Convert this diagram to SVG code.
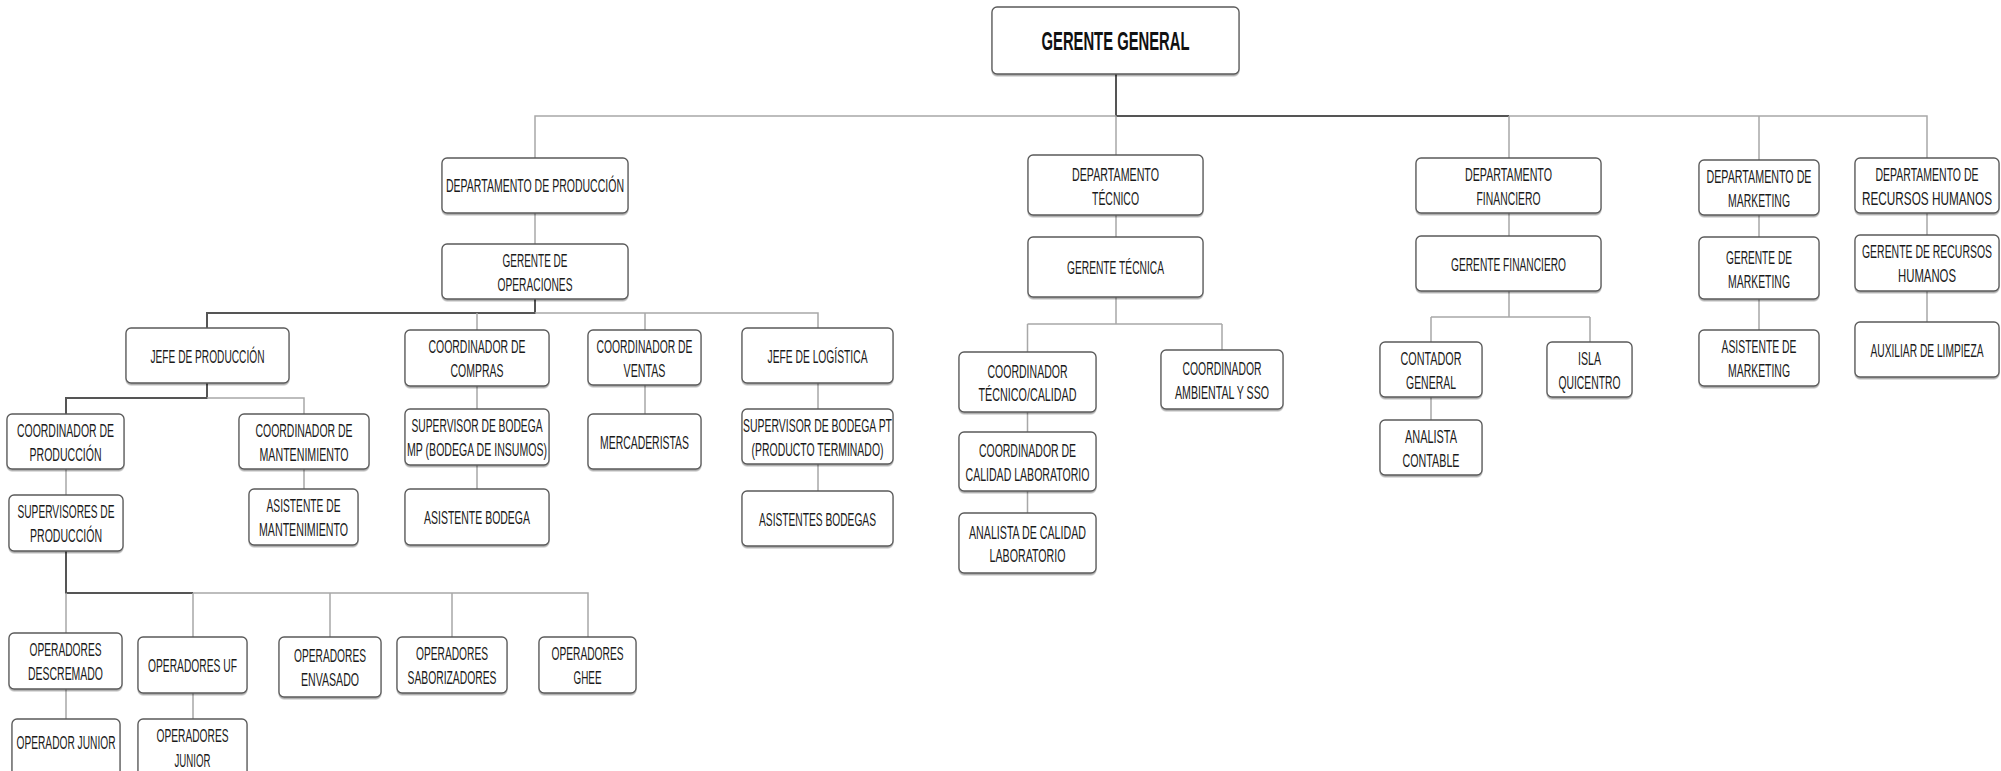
<svg xmlns="http://www.w3.org/2000/svg" width="2001" height="771" viewBox="0 0 2001 771">
<style>
.box{fill:#fff;stroke:#5a5a5a;stroke-width:1.3;filter:url(#sh)}
.t{font-family:"Liberation Sans Narrow","Liberation Sans",Arial,sans-serif;font-size:18.5px;fill:#1a1a1a;text-anchor:middle}
.tb{font-family:"Liberation Sans Narrow","Liberation Sans",Arial,sans-serif;font-size:25px;font-weight:bold;fill:#111;text-anchor:middle}
.lt{stroke:#a8a8a8;stroke-width:1.5;fill:none}
.dk{stroke:#555;stroke-width:2;fill:none}
</style>
<defs>
<filter id="sh" x="-5%" y="-10%" width="110%" height="130%">
<feDropShadow dx="0" dy="1.5" stdDeviation="0.7" flood-color="#000" flood-opacity="0.35"/>
</filter>
</defs>
<rect width="2001" height="771" fill="#fff"/>
<g id="connectors">
<path class="dk" d="M1116 74V116H1509"/>
<path class="lt" d="M1116 116H535V158M1509 116H1927V158M1116 116V155M1509 116V158M1759 116V160"/>
<path class="lt" d="M535 213V244"/>
<path class="dk" d="M535 299V313H207V328"/>
<path class="lt" d="M535 313H818V328M477 313V330M645 313V330"/>
<path class="dk" d="M207 383V398H66V414"/>
<path class="lt" d="M207 398H304V414"/>
<path class="lt" d="M66 469V495M304 469V489M477 386V409M477 465V489M645 385V414M818 383V409M818 464V491"/>
<path class="dk" d="M66 551V593H193"/>
<path class="lt" d="M193 593H588V637M66 593V633M193 593V637M330 593V637M452 593V637"/>
<path class="lt" d="M66 689V719M193 693V719"/>
<path class="lt" d="M1116 215V237M1116 297V324M1027.5 324H1222M1027.5 324V352M1222 324V350M1027.5 412V432M1027.5 491V513"/>
<path class="lt" d="M1509 213V236M1509 291V317M1431 317H1590M1431 317V342M1590 317V342M1431 397V420"/>
<path class="lt" d="M1759 215V237M1759 299V330"/>
<path class="lt" d="M1927 213V235M1927 291V322"/>
</g>
<g id="gerente-general"><rect class="box" x="992" y="7" width="247" height="67" rx="5"/><text class="tb" x="1115.5" y="50" textLength="148" lengthAdjust="spacingAndGlyphs">GERENTE GENERAL</text></g>
<g id="dep-produccion"><rect class="box" x="442" y="158" width="186" height="55" rx="5"/><text class="t" x="535" y="192" textLength="178" lengthAdjust="spacingAndGlyphs">DEPARTAMENTO DE PRODUCCIÓN</text></g>
<g id="gerente-operaciones"><rect class="box" x="442" y="244" width="186" height="55" rx="5"/><text class="t" x="535" y="267" textLength="65" lengthAdjust="spacingAndGlyphs">GERENTE DE</text><text class="t" x="535" y="291" textLength="75" lengthAdjust="spacingAndGlyphs">OPERACIONES</text></g>
<g id="jefe-produccion"><rect class="box" x="126" y="328" width="163" height="55" rx="5"/><text class="t" x="207.5" y="362.5" textLength="114" lengthAdjust="spacingAndGlyphs">JEFE DE PRODUCCIÓN</text></g>
<g id="coord-compras"><rect class="box" x="405" y="330" width="144" height="56" rx="5"/><text class="t" x="477" y="353" textLength="97" lengthAdjust="spacingAndGlyphs">COORDINADOR DE</text><text class="t" x="477" y="377" textLength="53" lengthAdjust="spacingAndGlyphs">COMPRAS</text></g>
<g id="coord-ventas"><rect class="box" x="588" y="330" width="113" height="55" rx="5"/><text class="t" x="644.5" y="353" textLength="96" lengthAdjust="spacingAndGlyphs">COORDINADOR DE</text><text class="t" x="644.5" y="377" textLength="42" lengthAdjust="spacingAndGlyphs">VENTAS</text></g>
<g id="jefe-logistica"><rect class="box" x="742" y="328" width="151" height="55" rx="5"/><text class="t" x="817.5" y="362.5" textLength="100" lengthAdjust="spacingAndGlyphs">JEFE DE LOGÍSTICA</text></g>
<g id="coord-produccion"><rect class="box" x="7" y="414" width="117" height="55" rx="5"/><text class="t" x="65.5" y="437" textLength="97" lengthAdjust="spacingAndGlyphs">COORDINADOR DE</text><text class="t" x="65.5" y="461" textLength="72" lengthAdjust="spacingAndGlyphs">PRODUCCIÓN</text></g>
<g id="coord-mantenimiento"><rect class="box" x="239" y="414" width="130" height="55" rx="5"/><text class="t" x="304" y="437" textLength="97" lengthAdjust="spacingAndGlyphs">COORDINADOR DE</text><text class="t" x="304" y="461" textLength="89" lengthAdjust="spacingAndGlyphs">MANTENIMIENTO</text></g>
<g id="sup-bodega-mp"><rect class="box" x="405" y="409" width="144" height="56" rx="5"/><text class="t" x="477" y="432" textLength="131" lengthAdjust="spacingAndGlyphs">SUPERVISOR DE BODEGA</text><text class="t" x="477" y="456" textLength="140" lengthAdjust="spacingAndGlyphs">MP (BODEGA DE INSUMOS)</text></g>
<g id="mercaderistas"><rect class="box" x="588" y="414" width="113" height="55" rx="5"/><text class="t" x="644.5" y="448.5" textLength="89" lengthAdjust="spacingAndGlyphs">MERCADERISTAS</text></g>
<g id="sup-bodega-pt"><rect class="box" x="742" y="409" width="151" height="55" rx="5"/><text class="t" x="817.5" y="432" textLength="149" lengthAdjust="spacingAndGlyphs">SUPERVISOR DE BODEGA PT</text><text class="t" x="817.5" y="456" textLength="132" lengthAdjust="spacingAndGlyphs">(PRODUCTO TERMINADO)</text></g>
<g id="supervisores-produccion"><rect class="box" x="9" y="495" width="114" height="56" rx="5"/><text class="t" x="66" y="518" textLength="97" lengthAdjust="spacingAndGlyphs">SUPERVISORES DE</text><text class="t" x="66" y="542" textLength="72" lengthAdjust="spacingAndGlyphs">PRODUCCIÓN</text></g>
<g id="asistente-mantenimiento"><rect class="box" x="249" y="489" width="109" height="56" rx="5"/><text class="t" x="303.5" y="512" textLength="74" lengthAdjust="spacingAndGlyphs">ASISTENTE DE</text><text class="t" x="303.5" y="536" textLength="89" lengthAdjust="spacingAndGlyphs">MANTENIMIENTO</text></g>
<g id="asistente-bodega"><rect class="box" x="405" y="489" width="144" height="56" rx="5"/><text class="t" x="477" y="523.5" textLength="106" lengthAdjust="spacingAndGlyphs">ASISTENTE BODEGA</text></g>
<g id="asistentes-bodegas"><rect class="box" x="742" y="491" width="151" height="55" rx="5"/><text class="t" x="817.5" y="525.5" textLength="117" lengthAdjust="spacingAndGlyphs">ASISTENTES BODEGAS</text></g>
<g id="op-descremado"><rect class="box" x="9" y="633" width="113" height="56" rx="5"/><text class="t" x="65.5" y="656" textLength="72" lengthAdjust="spacingAndGlyphs">OPERADORES</text><text class="t" x="65.5" y="680" textLength="75" lengthAdjust="spacingAndGlyphs">DESCREMADO</text></g>
<g id="op-uf"><rect class="box" x="138" y="637" width="109" height="56" rx="5"/><text class="t" x="192.5" y="671.5" textLength="89" lengthAdjust="spacingAndGlyphs">OPERADORES UF</text></g>
<g id="op-envasado"><rect class="box" x="279" y="637" width="102" height="60" rx="5"/><text class="t" x="330" y="662" textLength="72" lengthAdjust="spacingAndGlyphs">OPERADORES</text><text class="t" x="330" y="686" textLength="58" lengthAdjust="spacingAndGlyphs">ENVASADO</text></g>
<g id="op-saborizadores"><rect class="box" x="397" y="637" width="110" height="56" rx="5"/><text class="t" x="452" y="660" textLength="72" lengthAdjust="spacingAndGlyphs">OPERADORES</text><text class="t" x="452" y="684" textLength="89" lengthAdjust="spacingAndGlyphs">SABORIZADORES</text></g>
<g id="op-ghee"><rect class="box" x="539" y="637" width="97" height="56" rx="5"/><text class="t" x="587.5" y="660" textLength="72" lengthAdjust="spacingAndGlyphs">OPERADORES</text><text class="t" x="587.5" y="684" textLength="28" lengthAdjust="spacingAndGlyphs">GHEE</text></g>
<g id="operador-junior"><rect class="box" x="12" y="719" width="108" height="62" rx="5"/><text class="t" x="66" y="749" textLength="99" lengthAdjust="spacingAndGlyphs">OPERADOR JUNIOR</text></g>
<g id="operadores-junior"><rect class="box" x="138" y="719" width="109" height="62" rx="5"/><text class="t" x="192.5" y="741.5" textLength="72" lengthAdjust="spacingAndGlyphs">OPERADORES</text><text class="t" x="192.5" y="766.5" textLength="36" lengthAdjust="spacingAndGlyphs">JUNIOR</text></g>
<g id="dep-tecnico"><rect class="box" x="1028" y="155" width="175" height="60" rx="5"/><text class="t" x="1115.5" y="180.5" textLength="87" lengthAdjust="spacingAndGlyphs">DEPARTAMENTO</text><text class="t" x="1115.5" y="204.5" textLength="47" lengthAdjust="spacingAndGlyphs">TÉCNICO</text></g>
<g id="gerente-tecnica"><rect class="box" x="1028" y="237" width="175" height="60" rx="5"/><text class="t" x="1115.5" y="273.5" textLength="97" lengthAdjust="spacingAndGlyphs">GERENTE TÉCNICA</text></g>
<g id="coord-tecnico-calidad"><rect class="box" x="959" y="352" width="137" height="60" rx="5"/><text class="t" x="1027.5" y="377.5" textLength="80" lengthAdjust="spacingAndGlyphs">COORDINADOR</text><text class="t" x="1027.5" y="401" textLength="98" lengthAdjust="spacingAndGlyphs">TÉCNICO/CALIDAD</text></g>
<g id="coord-ambiental"><rect class="box" x="1161" y="350" width="122" height="59" rx="5"/><text class="t" x="1222" y="375" textLength="79" lengthAdjust="spacingAndGlyphs">COORDINADOR</text><text class="t" x="1222" y="398.5" textLength="94" lengthAdjust="spacingAndGlyphs">AMBIENTAL Y SSO</text></g>
<g id="coord-calidad-lab"><rect class="box" x="959" y="432" width="137" height="59" rx="5"/><text class="t" x="1027.5" y="457" textLength="97" lengthAdjust="spacingAndGlyphs">COORDINADOR DE</text><text class="t" x="1027.5" y="480.5" textLength="124" lengthAdjust="spacingAndGlyphs">CALIDAD LABORATORIO</text></g>
<g id="analista-calidad-lab"><rect class="box" x="959" y="513" width="137" height="60" rx="5"/><text class="t" x="1027.5" y="538.5" textLength="117" lengthAdjust="spacingAndGlyphs">ANALISTA DE CALIDAD</text><text class="t" x="1027.5" y="562" textLength="76" lengthAdjust="spacingAndGlyphs">LABORATORIO</text></g>
<g id="dep-financiero"><rect class="box" x="1416" y="158" width="185" height="55" rx="5"/><text class="t" x="1508.5" y="181" textLength="87" lengthAdjust="spacingAndGlyphs">DEPARTAMENTO</text><text class="t" x="1508.5" y="205" textLength="64" lengthAdjust="spacingAndGlyphs">FINANCIERO</text></g>
<g id="gerente-financiero"><rect class="box" x="1416" y="236" width="185" height="55" rx="5"/><text class="t" x="1508.5" y="270.5" textLength="115" lengthAdjust="spacingAndGlyphs">GERENTE FINANCIERO</text></g>
<g id="contador-general"><rect class="box" x="1380" y="342" width="102" height="55" rx="5"/><text class="t" x="1431" y="365" textLength="61" lengthAdjust="spacingAndGlyphs">CONTADOR</text><text class="t" x="1431" y="389" textLength="50" lengthAdjust="spacingAndGlyphs">GENERAL</text></g>
<g id="isla-quicentro"><rect class="box" x="1547" y="342" width="85" height="55" rx="5"/><text class="t" x="1589.5" y="365" textLength="23" lengthAdjust="spacingAndGlyphs">ISLA</text><text class="t" x="1589.5" y="389" textLength="62" lengthAdjust="spacingAndGlyphs">QUICENTRO</text></g>
<g id="analista-contable"><rect class="box" x="1380" y="420" width="102" height="55" rx="5"/><text class="t" x="1431" y="443" textLength="52" lengthAdjust="spacingAndGlyphs">ANALISTA</text><text class="t" x="1431" y="467" textLength="57" lengthAdjust="spacingAndGlyphs">CONTABLE</text></g>
<g id="dep-marketing"><rect class="box" x="1699" y="160" width="120" height="55" rx="5"/><text class="t" x="1759" y="183" textLength="105" lengthAdjust="spacingAndGlyphs">DEPARTAMENTO DE</text><text class="t" x="1759" y="207" textLength="62" lengthAdjust="spacingAndGlyphs">MARKETING</text></g>
<g id="gerente-marketing"><rect class="box" x="1699" y="237" width="120" height="62" rx="5"/><text class="t" x="1759" y="263.5" textLength="66" lengthAdjust="spacingAndGlyphs">GERENTE DE</text><text class="t" x="1759" y="287.5" textLength="62" lengthAdjust="spacingAndGlyphs">MARKETING</text></g>
<g id="asistente-marketing"><rect class="box" x="1699" y="330" width="120" height="56" rx="5"/><text class="t" x="1759" y="353" textLength="75" lengthAdjust="spacingAndGlyphs">ASISTENTE DE</text><text class="t" x="1759" y="377" textLength="62" lengthAdjust="spacingAndGlyphs">MARKETING</text></g>
<g id="dep-rrhh"><rect class="box" x="1855" y="158" width="144" height="55" rx="5"/><text class="t" x="1927" y="181" textLength="103" lengthAdjust="spacingAndGlyphs">DEPARTAMENTO DE</text><text class="t" x="1927" y="205" textLength="130" lengthAdjust="spacingAndGlyphs">RECURSOS HUMANOS</text></g>
<g id="gerente-rrhh"><rect class="box" x="1855" y="235" width="144" height="56" rx="5"/><text class="t" x="1927" y="258" textLength="130" lengthAdjust="spacingAndGlyphs">GERENTE DE RECURSOS</text><text class="t" x="1927" y="282" textLength="58" lengthAdjust="spacingAndGlyphs">HUMANOS</text></g>
<g id="auxiliar-limpieza"><rect class="box" x="1855" y="322" width="144" height="55" rx="5"/><text class="t" x="1927" y="356.5" textLength="113" lengthAdjust="spacingAndGlyphs">AUXILIAR DE LIMPIEZA</text></g>
</svg>
